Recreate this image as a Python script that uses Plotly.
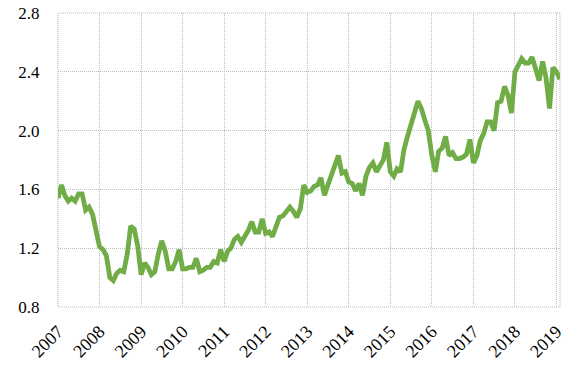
import plotly.graph_objects as go
import pandas as pd

start_month = "2007-01-01"
values = [
    1.54, 1.63, 1.56, 1.52, 1.54, 1.52, 1.57, 1.57, 1.46, 1.48, 1.43, 1.30,
    1.21, 1.19, 1.15, 1.00, 0.98, 1.03, 1.05, 1.04, 1.16, 1.35, 1.33, 1.22,
    1.02, 1.10, 1.07, 1.02, 1.04, 1.16, 1.25, 1.18, 1.06, 1.06, 1.11, 1.19,
    1.06, 1.06, 1.07, 1.07, 1.13, 1.04, 1.05, 1.07, 1.07, 1.11, 1.10, 1.19,
    1.11, 1.18, 1.20, 1.26, 1.28, 1.24, 1.28, 1.32, 1.38, 1.31, 1.31, 1.40,
    1.30, 1.31, 1.28, 1.34, 1.41, 1.42, 1.45, 1.48, 1.45, 1.41, 1.47, 1.63,
    1.58, 1.59, 1.62, 1.63, 1.68, 1.56, 1.63, 1.70, 1.76, 1.83, 1.71, 1.72,
    1.65, 1.64, 1.59, 1.64, 1.56, 1.69, 1.75, 1.78, 1.72, 1.76, 1.80, 1.92,
    1.72, 1.69, 1.74, 1.72, 1.87, 1.96, 2.05, 2.12, 2.20, 2.15, 2.07, 2.00,
    1.83, 1.72, 1.86, 1.88, 1.96, 1.83, 1.85, 1.81, 1.81, 1.82, 1.84, 1.94,
    1.78, 1.83, 1.93, 1.98, 2.06, 2.06, 2.00, 2.19, 2.20, 2.30, 2.24, 2.12,
    2.40, 2.45, 2.49, 2.46, 2.46, 2.50, 2.42, 2.34, 2.47, 2.36, 2.15, 2.43,
    2.40, 2.35,
]
dates = pd.date_range(start_month, periods=len(values), freq="MS")
year_ticks = [f"{y}-01-01" for y in range(2007, 2020)]
year_labels = [str(y) for y in range(2007, 2020)]
y_ticks = [0.8, 1.2, 1.6, 2.0, 2.4, 2.8]
y_labels = ["0.8", "1.2", "1.6", "2.0", "2.4", "2.8"]

fig = go.Figure()
fig.add_trace(go.Scatter(
    x=dates, y=values, mode="lines",
    line=dict(color="#70AD47", width=4.8),
    hoverinfo="skip",
))

grid = "#bdbdbd"
fig.update_layout(
    width=586, height=377,
    margin=dict(l=58, r=26, t=13, b=70),
    paper_bgcolor="white", plot_bgcolor="white",
    showlegend=False,
    font=dict(family="Liberation Serif", size=17, color="#000000"),
    xaxis=dict(
        range=[dates[0], dates[-1]],
        tickmode="array", tickvals=year_ticks, ticktext=year_labels,
        tickangle=-45, automargin=False, tickfont=dict(size=18),
        showgrid=True, gridcolor=grid, griddash="1px,1px", gridwidth=1.2,
        zeroline=False, showline=False,
        ticks="outside", ticklen=6, tickcolor="rgba(0,0,0,0)",
    ),
    yaxis=dict(
        range=[0.8, 2.8], automargin=False,
        tickmode="array", tickvals=y_ticks, ticktext=y_labels,
        showgrid=True, gridcolor=grid, griddash="1px,1px", gridwidth=1.2,
        zeroline=False, showline=False,
        ticks="outside", ticklen=14, tickcolor="rgba(0,0,0,0)",
    ),
    shapes=[dict(type="rect", xref="paper", yref="paper", x0=0, x1=1, y0=0, y1=1,
                 line=dict(color=grid, width=1.2, dash="1px,1px"), layer="below")],
)

fig.write_html("out.html", config={"displayModeBar": False},
               post_script="document.body.style.margin='0';")
